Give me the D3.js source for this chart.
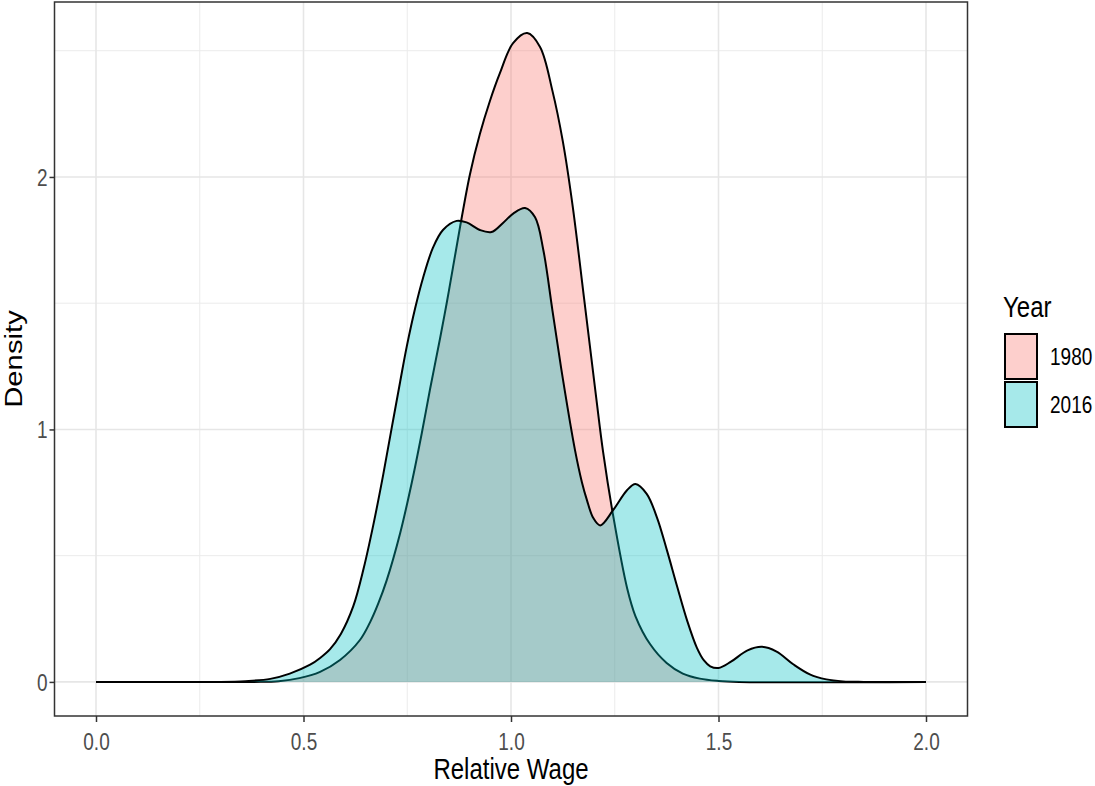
<!DOCTYPE html>
<html>
<head>
<meta charset="utf-8">
<script src="https://cdn.jsdelivr.net/npm/d3@7"></script>
<style>
  body { margin: 0; background: #fff; }
  text { font-family: "Liberation Sans", Arial, sans-serif; }
</style>
</head>
<body>
<script>
// density of relative wage
const wage1980 = [0.00, 0.38, 0.44, 0.49, 0.54, 0.588, 0.636, 0.66, 0.68, 0.70, 0.733, 0.761, 0.785, 0.805, 0.829, 0.845, 0.86, 0.877, 0.901, 0.925, 0.949, 0.973, 1.005, 1.039, 1.07, 1.10, 1.125, 1.149, 1.176, 1.205, 1.222, 1.246, 1.28, 1.30, 1.335, 1.375, 1.414, 1.455, 1.50, 1.55, 2.00];
const dens1980 = [0, 0, 0.003, 0.015, 0.04, 0.087, 0.166, 0.235, 0.31, 0.40, 0.59, 0.79, 0.985, 1.16, 1.36, 1.50, 1.64, 1.80, 2.01, 2.17, 2.30, 2.41, 2.53, 2.57, 2.515, 2.34, 2.14, 1.88, 1.52, 1.13, 0.91, 0.66, 0.37, 0.26, 0.15, 0.075, 0.033, 0.013, 0.004, 0, 0];

const wage2016 = [0.00, 0.30, 0.36, 0.42, 0.467, 0.516, 0.54, 0.564, 0.59, 0.62, 0.645, 0.668, 0.692, 0.713, 0.733, 0.749, 0.769, 0.788, 0.812, 0.836, 0.869, 0.893, 0.925, 0.953, 0.98, 1.006, 1.034, 1.058, 1.078, 1.10, 1.125, 1.154, 1.171, 1.183, 1.198, 1.215, 1.246, 1.28, 1.30, 1.327, 1.352, 1.376, 1.40, 1.425, 1.448, 1.465, 1.48, 1.50, 1.53, 1.57, 1.605, 1.64, 1.68, 1.72, 1.76, 1.80, 1.85, 2.00];
const dens2016 = [0, 0, 0.003, 0.012, 0.033, 0.068, 0.095, 0.13, 0.19, 0.30, 0.45, 0.62, 0.82, 1.01, 1.19, 1.33, 1.48, 1.60, 1.72, 1.79, 1.826, 1.82, 1.79, 1.782, 1.817, 1.856, 1.877, 1.84, 1.71, 1.47, 1.20, 0.92, 0.79, 0.72, 0.65, 0.62, 0.68, 0.76, 0.784, 0.745, 0.65, 0.52, 0.38, 0.24, 0.135, 0.085, 0.062, 0.055, 0.08, 0.125, 0.139, 0.12, 0.07, 0.03, 0.01, 0.002, 0, 0];

const years = ["1980", "2016"];
const yearColors = ["#F8766D", "#00BFC4"];
const xTicks = [0, 0.5, 1, 1.5, 2];
const xMinor = [0.25, 0.75, 1.25, 1.75];
const yTicks = [0, 1, 2];
const yMinor = [0.5, 1.5, 2.5];

const W = 1095, H = 786;
const stretch = 1.22; // text in the picture is drawn tall and narrow
const fillAlpha = 0.35;

const x = d3.scaleLinear().domain([-0.1, 2.1]).range([54.5, 967.5]);
const y = d3.scaleLinear().domain([-0.135, 2.693]).range([716, 2]);

const svg = d3.select("body").append("svg")
  .attr("width", W)
  .attr("height", H);

const [x0, x1] = x.range();
const [yb, yt] = y.range();

svg.append("rect")
  .attr("x", x0).attr("y", yt)
  .attr("width", x1 - x0).attr("height", yb - yt)
  .attr("fill", "#fff");

// grid
const grid = svg.append("g");
grid.selectAll(".vminor").data(xMinor).enter().append("line")
  .attr("x1", d => x(d)).attr("x2", d => x(d)).attr("y1", yt).attr("y2", yb)
  .attr("stroke", "#EBEBEB").attr("stroke-width", 1);
grid.selectAll(".hminor").data(yMinor).enter().append("line")
  .attr("x1", x0).attr("x2", x1).attr("y1", d => y(d)).attr("y2", d => y(d))
  .attr("stroke", "#EBEBEB").attr("stroke-width", 1);
grid.selectAll(".vmajor").data(xTicks).enter().append("line")
  .attr("x1", d => x(d)).attr("x2", d => x(d)).attr("y1", yt).attr("y2", yb)
  .attr("stroke", "#E6E6E6").attr("stroke-width", 1.6);
grid.selectAll(".hmajor").data(yTicks).enter().append("line")
  .attr("x1", x0).attr("x2", x1).attr("y1", d => y(d)).attr("y2", d => y(d))
  .attr("stroke", "#E6E6E6").attr("stroke-width", 1.6);

// densities
const series = [
  {year: years[0], pts: wage1980.map((w, i) => [w, dens1980[i]])},
  {year: years[1], pts: wage2016.map((w, i) => [w, dens2016[i]])}
];

const curve = d3.curveCatmullRom.alpha(0.5);
const area = d3.area()
  .x(d => x(d[0])).y0(y(0)).y1(d => y(Math.max(0, d[1])))
  .curve(curve);
const line = d3.line()
  .x(d => x(d[0])).y(d => y(d[1]))
  .curve(curve);

const charts = svg.append("g").attr("class", "charts");
series.forEach((s, i) => {
  const g = charts.append("g");
  g.append("path").datum(s.pts)
    .attr("d", area)
    .attr("fill", yearColors[i]).attr("fill-opacity", fillAlpha);
  g.append("path").datum(s.pts)
    .attr("d", line)
    .attr("fill", "none").attr("stroke", "#000").attr("stroke-width", 2)
    .attr("stroke-linejoin", "round");
});

// panel border
svg.append("rect")
  .attr("x", x0).attr("y", yt)
  .attr("width", x1 - x0).attr("height", yb - yt)
  .attr("fill", "none").attr("stroke", "#333").attr("stroke-width", 1.5);

// axes
const xAxis = d3.axisBottom(x).tickValues(xTicks).tickSize(6).tickFormat(d3.format(".1f"));
const yAxis = d3.axisLeft(y).tickValues(yTicks).tickSize(5).tickFormat(d3.format("d"));

const gX = svg.append("g").attr("transform", "translate(0," + yb + ")").call(xAxis);
const gY = svg.append("g").attr("transform", "translate(" + x0 + ",0)").call(yAxis);
[gX, gY].forEach(g => {
  g.select(".domain").remove();
  g.selectAll(".tick line").attr("stroke", "#333").attr("stroke-width", 1.5);
  g.selectAll(".tick text")
    .attr("fill", "#4D4D4D").attr("font-size", 19)
    .attr("font-family", "Liberation Sans, Arial, sans-serif")
    .attr("dy", null).attr("x", 0).attr("y", 0);
});
gX.selectAll(".tick text").attr("text-anchor", "middle")
  .attr("transform", "translate(0,34) scale(1," + stretch + ")");
gY.selectAll(".tick text").attr("text-anchor", "end")
  .attr("transform", "translate(-7,8.3) scale(1," + stretch + ")");

// axis titles
svg.append("text")
  .attr("transform", "translate(" + (x0 + x1) / 2 + ",779) scale(1," + stretch + ")")
  .attr("text-anchor", "middle").attr("font-size", 24).attr("fill", "#000")
  .text("Relative Wage");
svg.append("text")
  .attr("transform", "translate(22," + (yt + yb) / 2 + ") scale(1," + stretch + ") rotate(-90)")
  .attr("text-anchor", "middle").attr("font-size", 24).attr("fill", "#000")
  .text("Density");

// legend
const legende = svg.append("g").attr("class", "legende");
legende.append("text")
  .attr("transform", "translate(1003,317) scale(1," + stretch + ")")
  .attr("font-size", 24).attr("fill", "#000")
  .text("Year");
years.forEach((yr, i) => {
  const top = 333 + i * 48;
  legende.append("rect")
    .attr("x", 1005).attr("y", top + 1)
    .attr("width", 32).attr("height", 45)
    .attr("fill", "#fff");
  legende.append("rect")
    .attr("x", 1005).attr("y", top + 1)
    .attr("width", 32).attr("height", 45)
    .attr("fill", yearColors[i]).attr("fill-opacity", fillAlpha)
    .attr("stroke", "#000").attr("stroke-width", 2);
  legende.append("text")
    .attr("transform", "translate(1050," + (top + 32) + ") scale(1," + stretch + ")")
    .attr("font-size", 19).attr("fill", "#000")
    .text(yr);
});
</script>
</body>
</html>
